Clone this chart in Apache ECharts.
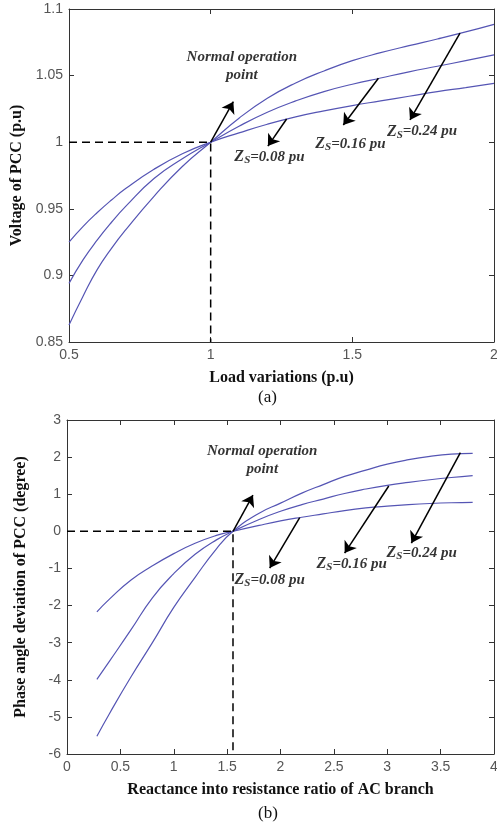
<!DOCTYPE html>
<html>
<head>
<meta charset="utf-8">
<script src="https://cdn.jsdelivr.net/npm/echarts@6/dist/echarts.min.js"></script>
<style>
  html, body { margin: 0; padding: 0; background: #fff; }
  #chart { width: 497px; height: 829px; }
</style>
</head>
<body>
<div id="chart"></div>
<script>
// (a) voltage of PCC vs load
var loadX = [0.5, 0.55, 0.6, 0.65, 0.7, 0.8, 0.9, 1.0, 1.1, 1.2, 1.3, 1.4, 1.5, 1.6, 1.7, 1.8, 1.9, 2.0];
var voltZs008 = [0.925, 0.9368, 0.9472, 0.9566, 0.9652, 0.9797, 0.9913, 1.0, 1.007, 1.0135, 1.019, 1.0235, 1.0275, 1.031, 1.0345, 1.038, 1.041, 1.0442];
var voltZs016 = [0.894, 0.9118, 0.9267, 0.9399, 0.9518, 0.9727, 0.9875, 1.0, 1.012, 1.0225, 1.031, 1.038, 1.0435, 1.0482, 1.0528, 1.057, 1.0612, 1.0655];
var voltZs024 = [0.8628, 0.8846, 0.9045, 0.9203, 0.9342, 0.9594, 0.9818, 1.0, 1.018, 1.033, 1.0445, 1.0535, 1.0612, 1.0672, 1.0725, 1.0775, 1.0828, 1.0885];
var loadAxis = [0.5, 2, 0.5];     // min, max, step
var voltAxis = [0.85, 1.1, 0.05];
var pointA = [1, 1];

// (b) phase angle deviation vs X/R ratio
var ratioX = [0.28, 0.4, 0.6, 0.8, 1.0, 1.2, 1.4, 1.555, 1.8, 2.0, 2.2, 2.4, 2.6, 2.8, 3.0, 3.2, 3.4, 3.6, 3.8];
var angleZs008 = [-2.17, -1.82, -1.31, -0.93, -0.60, -0.32, -0.11, 0, 0.16, 0.28, 0.38, 0.47, 0.56, 0.63, 0.68, 0.72, 0.75, 0.77, 0.78];
var angleZs016 = [-3.99, -3.49, -2.65, -1.79, -1.14, -0.62, -0.23, 0, 0.32, 0.54, 0.72, 0.87, 1.02, 1.14, 1.24, 1.32, 1.39, 1.45, 1.50];
var angleZs024 = [-5.52, -4.90, -3.92, -3.00, -2.05, -1.24, -0.47, 0, 0.49, 0.76, 1.03, 1.26, 1.48, 1.65, 1.81, 1.93, 2.02, 2.08, 2.10];
var ratioAxis = [0, 4, 0.5];
var angleAxis = [-6, 3, 1];
var pointB = [1.555, 0];

// annotations: arrows [x0, y0, x1, y1], labels [x, y, text]
var arrowsA = [[1.0, 1.0, 1.08, 1.0304], [1.268, 1.0174, 1.202, 0.9971], [1.592, 1.048, 1.468, 1.0129], [1.88, 1.0818, 1.7035, 1.0167]];
var labelsA = [[1.11, 1.0572, 'Normal operation\npoint'], [1.2077, 0.9889, '{z|Z}{s|S}{t|=0.08 pu}'], [1.4935, 0.9987, '{z|Z}{s|S}{t|=0.16 pu}'], [1.746, 1.008, '{z|Z}{s|S}{t|=0.24 pu}']];
var arrowsB = [[1.555, 0, 1.742, 0.978], [2.18, 0.367, 1.899, -0.989], [3.014, 1.221, 2.601, -0.585], [3.685, 2.119, 3.226, -0.315]];
var labelsB = [[1.829, 1.92, 'Normal operation\npoint'], [1.899, -1.313, '{z|Z}{s|S}{t|=0.08 pu}'], [2.667, -0.881, '{z|Z}{s|S}{t|=0.16 pu}'], [3.323, -0.585, '{z|Z}{s|S}{t|=0.24 pu}']];

var serif = '"Liberation Serif", "Times New Roman", serif';
var sans = '"Liberation Sans", Arial, sans-serif';

function axes(kind, gi, range, name, gap) {
  var base = {
    type: 'value', gridIndex: gi, min: range[0], max: range[1], interval: range[2],
    splitLine: { show: false },
    axisLine: { show: true, onZero: false, lineStyle: { color: '#333', width: 1 } },
    axisTick: { show: true, inside: true, length: 5, lineStyle: { color: '#333' } }
  };
  var main = Object.assign({}, base, {
    position: kind === 'x' ? 'bottom' : 'left',
    name: name, nameLocation: 'middle', nameGap: gap,
    nameRotate: kind === 'x' ? 0 : 90,
    nameTextStyle: { fontFamily: serif, fontWeight: 'bold', fontSize: 16, color: '#111' },
    axisLabel: { color: '#555', fontFamily: sans, fontSize: 14, margin: 6 }
  });
  var mirror = Object.assign({}, base, {
    position: kind === 'x' ? 'top' : 'right',
    axisLabel: { show: false }
  });
  return [main, mirror];
}

function curve(xs, ys, gi) {
  return {
    type: 'line', xAxisIndex: gi * 2, yAxisIndex: gi * 2, silent: true,
    data: xs.map(function (x, i) { return [x, ys[i]]; }),
    symbol: 'none', smooth: 0.5,
    lineStyle: { color: '#5555b4', width: 1.2 }
  };
}

function guide(pt, xr, yr, arrows, gi) {
  return {
    type: 'line', xAxisIndex: gi * 2, yAxisIndex: gi * 2, silent: true,
    data: [[xr[0], pt[1]], [pt[0], pt[1]], [pt[0], yr[0]]],
    symbol: 'none',
    lineStyle: { color: '#000', width: 1.5, type: [8, 5] },
    markLine: {
      silent: true, symbol: ['none', 'arrow'], symbolSize: 11,
      label: { show: false },
      lineStyle: { color: '#000', width: 1.5, type: 'solid' },
      data: arrows.map(function (a) { return [{ coord: [a[0], a[1]] }, { coord: [a[2], a[3]] }]; })
    }
  };
}

function notes(labels, gi) {
  var t = { fontFamily: serif, fontStyle: 'italic', fontWeight: 'bold', color: '#000' };
  return {
    type: 'scatter', xAxisIndex: gi * 2, yAxisIndex: gi * 2, silent: true,
    symbolSize: 1, itemStyle: { color: 'rgba(0,0,0,0)' },
    data: labels.map(function (l) {
      return { value: [l[0], l[1]], label: { formatter: l[2] } };
    }),
    label: {
      show: true, position: 'inside', align: 'center', verticalAlign: 'middle',
      fontFamily: serif, fontStyle: 'italic', fontWeight: 'bold', fontSize: 15, lineHeight: 18, color: '#000',
      rich: {
        z: Object.assign({ fontSize: 16 }, t),
        s: Object.assign({ fontSize: 11, padding: [7, 0, 0, 0] }, t),
        t: Object.assign({ fontSize: 15 }, t)
      }
    }
  };
}

var xa = axes('x', 0, loadAxis, 'Load variations (p.u)', 28);
var ya = axes('y', 0, voltAxis, 'Voltage of PCC (p.u)', 43);
var xb = axes('x', 1, ratioAxis, 'Reactance into resistance ratio of AC branch', 28);
var yb = axes('y', 1, angleAxis, 'Phase angle deviation of PCC (degree)', 38);

var chart = echarts.init(document.getElementById('chart'));
chart.setOption({
  animation: false,
  grid: [
    { left: 69, top: 9, width: 425, height: 333, outerBoundsMode: 'none', containLabel: false },
    { left: 67, top: 420, width: 427, height: 334, outerBoundsMode: 'none', containLabel: false }
  ],
  xAxis: [xa[0], xa[1], xb[0], xb[1]],
  yAxis: [ya[0], ya[1], yb[0], yb[1]],
  graphic: [
    { type: 'text', left: 258, top: 389, style: { text: '(a)', font: '17px ' + serif, fill: '#111' } },
    { type: 'text', left: 258, top: 805, style: { text: '(b)', font: '17px ' + serif, fill: '#111' } }
  ],
  series: [
    curve(loadX, voltZs008, 0),
    curve(loadX, voltZs016, 0),
    curve(loadX, voltZs024, 0),
    guide(pointA, loadAxis, voltAxis, arrowsA, 0),
    notes(labelsA, 0),
    curve(ratioX, angleZs008, 1),
    curve(ratioX, angleZs016, 1),
    curve(ratioX, angleZs024, 1),
    guide(pointB, ratioAxis, angleAxis, arrowsB, 1),
    notes(labelsB, 1)
  ]
});
</script>
</body>
</html>
